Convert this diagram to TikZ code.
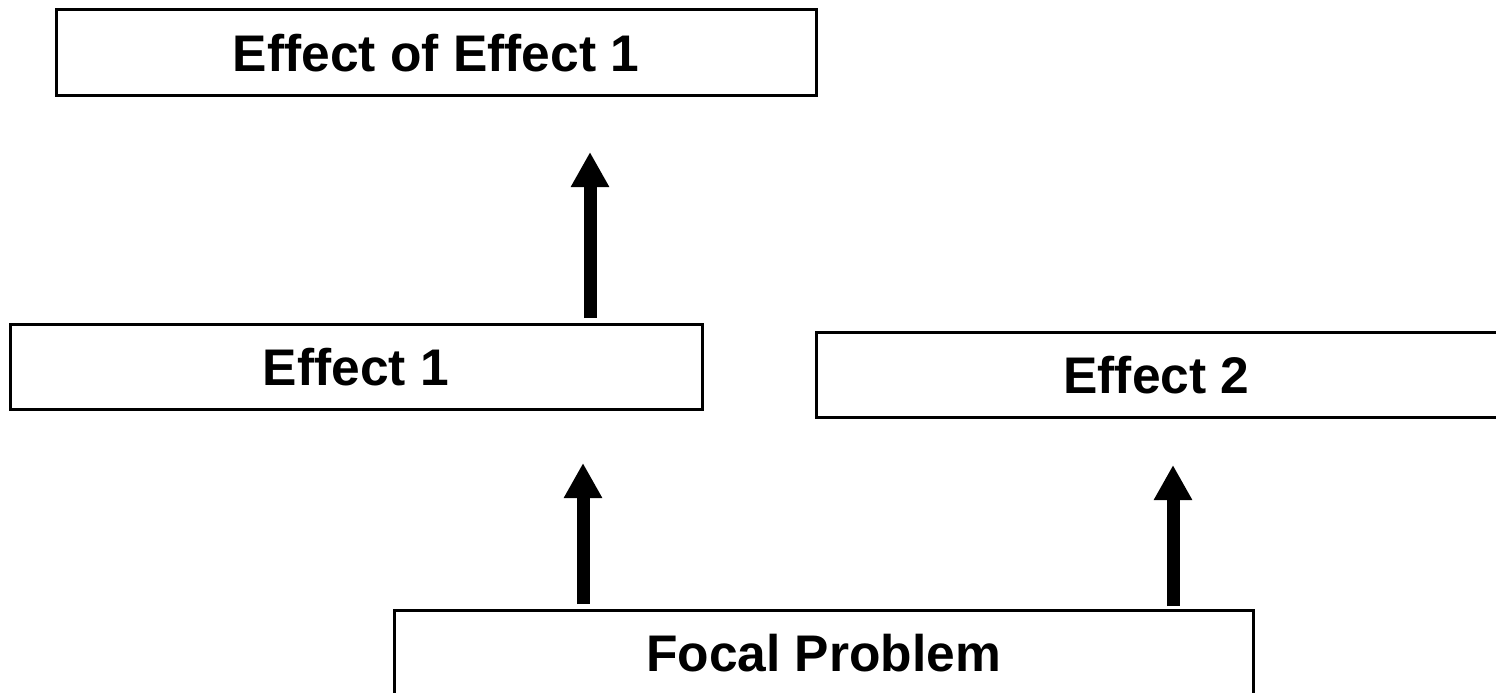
\documentclass[tikz,border=0pt]{standalone}
\usepackage{fontspec}
\setmainfont{Liberation Sans}
\usetikzlibrary{arrows.meta}
\begin{document}
\begin{tikzpicture}[x=1pt,y=-1pt,
  box/.style={draw=black, line width=3pt, fill=white, inner sep=0pt, minimum height=85pt,
    font=\fontsize{51.5}{60}\selectfont\bfseries, text height=37pt, text depth=0pt},
  bigarrow/.style={line width=13pt, -{Triangle[width=36pt,length=35pt]}}]
\useasboundingbox[fill=white] (0,0) rectangle (1496,693);
\node[box, minimum width=760pt] (ee1) at (436,52.5) {Effect of Effect 1};
\node[box, minimum width=692pt] (e1) at (356,366.5) {Effect 1};
\node[box, minimum width=681pt] (e2) at (1156.5,374.5) {Effect 2};
\node[box, minimum width=859pt] (fp) at (823.5,652.5) {Focal Problem};
\coordinate (a1s) at (590,318);
\coordinate (a1e) at (590,152);
\coordinate (a2s) at (583,604);
\coordinate (a2e) at (583,463);
\coordinate (a3s) at (1173,606);
\coordinate (a3e) at (1173,465);
\draw[bigarrow] (a1s) -- (a1e);
\draw[bigarrow] (a2s) -- (a2e);
\draw[bigarrow] (a3s) -- (a3e);
\end{tikzpicture}
\end{document}
